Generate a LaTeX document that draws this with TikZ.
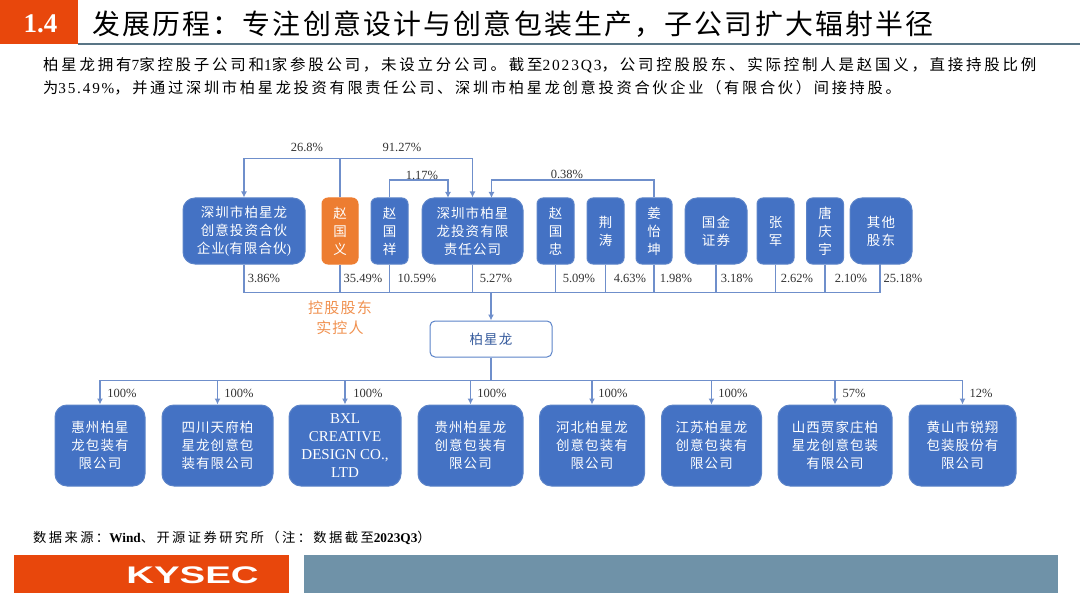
\documentclass[tikz,border=0pt]{standalone}
\usepackage{fontspec}
\setmainfont[LetterSpace=8]{Noto Sans CJK SC}
\newfontfamily\introf[LetterSpace=18]{Noto Sans CJK SC}
\newfontfamily\latf{Liberation Serif}
\newfontfamily\introlat[LetterSpace=12]{Liberation Serif}
\newfontfamily\logof{Liberation Sans}
\usetikzlibrary{arrows.meta}

\definecolor{boxblue}{HTML}{4472C4}
\definecolor{boxline}{HTML}{5B83C8}
\definecolor{linkblue}{HTML}{6F8FCB}
\definecolor{ownerorange}{HTML}{ED7D31}
\definecolor{headred}{HTML}{E8470C}
\definecolor{footblue}{HTML}{6F92A8}

\tikzset{
    company/.style={draw=boxline,line width=1pt,fill=boxblue,text=white,rounded corners=12pt,inner sep=0pt,align=center,font=\fontsize{13.5}{18}\selectfont},
    person/.style={company,rounded corners=6pt},
    link/.style={draw=linkblue,line width=1.2pt},
    linkarrow/.style={link,-{Latex[length=6pt,width=6pt]}},
    pct/.style={inner sep=0pt,font=\latf\fontsize{12.5}{14}\selectfont,text=black!80},
}
\newcommand{\companybox}[6]{\node[company,minimum width=#3 pt,minimum height=#4 pt,#6] (#1) at (#2) {#5};}

\begin{document}
\begin{tikzpicture}[x=1pt,y=-1pt]
    \useasboundingbox (0,0) rectangle (1080,607);

    % header
    \fill[headred] (0,0) rectangle (78,44);
    \fill[footblue!80!black] (78,43) rectangle (1080,45.5);
    \node[inner sep=0pt,text=white] (secno) at (40.5,24) {\latf\bfseries\fontsize{27}{27}\selectfont 1.4};
    \node[inner sep=0pt,anchor=west] (headline) at (92,24) {\fontsize{27.9}{30}\selectfont 发展历程：专注创意设计与创意包装生产，子公司扩大辐射半径};
    \node[inner sep=0pt,anchor=west] (introa) at (43,65) {\introf\fontsize{15.45}{18}\selectfont 柏星龙拥有{\introlat 7}家控股子公司和{\introlat 1}家参股公司，未设立分公司。截至{\introlat 2023Q3}，公司控股股东、实际控制人是赵国义，直接持股比例};
    \node[inner sep=0pt,anchor=west] (introb) at (43,88) {\introf\fontsize{15.2}{18}\selectfont 为{\introlat 35.49\%}，并通过深圳市柏星龙投资有限责任公司、深圳市柏星龙创意投资合伙企业（有限合伙）间接持股。};

    % shareholders
    \companybox{cyhh}{244,231}{122}{66}{深圳市柏星龙\\创意投资合伙\\企业{\latf(}有限合伙{\latf)}}{}
    \companybox{zgy}{340,231}{36}{66}{赵\\国\\义}{person,fill=ownerorange,draw=ownerorange}
    \companybox{zgx}{389.5,231}{37}{66}{赵\\国\\祥}{person}
    \companybox{bxltz}{472.5,231}{101}{66}{深圳市柏星\\龙投资有限\\责任公司}{}
    \companybox{zgz}{555.5,231}{37}{66}{赵\\国\\忠}{person}
    \companybox{jt}{605.5,231}{37}{66}{荆\\涛}{person}
    \companybox{jyk}{654,231}{36}{66}{姜\\怡\\坤}{person}
    \companybox{gjzq}{716,231}{62}{66}{国金\\证券}{}
    \companybox{zj}{775.5,231}{37}{66}{张\\军}{person}
    \companybox{tqy}{825,231}{37}{66}{唐\\庆\\宇}{person}
    \companybox{qtgd}{881,231}{62}{66}{其他\\股东}{}

    % main company
    \node[draw=boxline,line width=1pt,fill=white,rounded corners=5pt,minimum width=122pt,minimum height=36pt,inner sep=0pt,text=boxblue!80!black,font=\fontsize{13.5}{16}\selectfont] (bxl) at (491,339) {柏星龙};

    % subsidiaries
    \companybox{huizhou}{100,445.5}{90}{81}{惠州柏星\\龙包装有\\限公司}{}
    \companybox{sichuan}{217.5,445.5}{111}{81}{四川天府柏\\星龙创意包\\装有限公司}{}
    \companybox{bxlco}{345,445.5}{112}{81}{{\latf\fontsize{15}{18}\selectfont BXL}\\{\latf\fontsize{15}{18}\selectfont CREATIVE}\\{\latf\fontsize{15}{18}\selectfont DESIGN CO.,}\\{\latf\fontsize{15}{18}\selectfont LTD}}{}
    \companybox{guizhou}{470.5,445.5}{105}{81}{贵州柏星龙\\创意包装有\\限公司}{}
    \companybox{hebei}{592,445.5}{105}{81}{河北柏星龙\\创意包装有\\限公司}{}
    \companybox{jiangsu}{711.5,445.5}{100}{81}{江苏柏星龙\\创意包装有\\限公司}{}
    \companybox{shanxi}{835,445.5}{114}{81}{山西贾家庄柏\\星龙创意包装\\有限公司}{}
    \companybox{huangshan}{962.5,445.5}{107}{81}{黄山市锐翔\\包装股份有\\限公司}{}

    % upper links
    \coordinate (topbus) at (340,158.5);
    \coordinate (xiangend) at (448,198);
    \coordinate (kunend) at (491.5,198);
    \draw[link] (zgy.north) -- (topbus);
    \draw[linkarrow] (topbus) -| (cyhh.north);
    \draw[linkarrow] (topbus) -| (bxltz.north);
    \draw[linkarrow] (zgx.north) -- ++(0,-17.5) -| (xiangend);
    \draw[linkarrow] (jyk.north) -- ++(0,-17.5) -| (kunend);

    % shareholder bus
    \coordinate (midbus) at (491,292.5);
    \coordinate (othertop) at (880,264);
    \foreach \holder in {cyhh,zgy,zgx,bxltz,zgz,jt,jyk,gjzq,zj,tqy}
        \draw[link] (\holder.south) |- (midbus);
    \draw[link] (othertop) |- (midbus);
    \draw[linkarrow] (midbus) -- (bxl.north);

    % subsidiary bus
    \coordinate (lowbus) at (491,380.5);
    \draw[link] (bxl.south) -- (lowbus);
    \foreach \sub in {huizhou,sichuan,bxlco,guizhou,hebei,jiangsu,shanxi,huangshan}
        \draw[linkarrow] (lowbus) -| (\sub.north);

    % percentages
    \node[pct] (pa) at (307,147) {26.8\%};
    \node[pct] (pb) at (402,147) {91.27\%};
    \node[pct] (pc) at (422,175) {1.17\%};
    \node[pct] (pd) at (567,174) {0.38\%};
    \node[pct] (pe) at (264,278) {3.86\%};
    \node[pct] (pf) at (363,278) {35.49\%};
    \node[pct] (pg) at (417,278) {10.59\%};
    \node[pct] (ph) at (496,278) {5.27\%};
    \node[pct] (pi) at (579,278) {5.09\%};
    \node[pct] (pj) at (630,278) {4.63\%};
    \node[pct] (pk) at (676,278) {1.98\%};
    \node[pct] (pl) at (737,278) {3.18\%};
    \node[pct] (pm) at (797,278) {2.62\%};
    \node[pct] (pn) at (851,278) {2.10\%};
    \node[pct] (po) at (903,278) {25.18\%};
    \node[pct] (qa) at (122,393) {100\%};
    \node[pct] (qb) at (239,393) {100\%};
    \node[pct] (qc) at (368,393) {100\%};
    \node[pct] (qd) at (492,393) {100\%};
    \node[pct] (qe) at (613,393) {100\%};
    \node[pct] (qf) at (733,393) {100\%};
    \node[pct] (qg) at (854,393) {57\%};
    \node[pct] (qh) at (981,393) {12\%};

    \node[inner sep=0pt,align=center,text=ownerorange!85,font=\fontsize{15}{19.5}\selectfont] (owner) at (340,317.5) {控股股东\\实控人};

    % footer
    \node[inner sep=0pt,anchor=west] (source) at (33,538) {\introf\fontsize{13.3}{15}\selectfont 数据来源：{\latf\bfseries Wind}、开源证券研究所（注：数据截至{\latf\bfseries 2023Q3}）};
    \fill[headred] (14,555) rectangle (289,592.5);
    \fill[footblue] (304,555) rectangle (1058,592.5);
    \node[inner sep=0pt,text=white,xscale=1.6] (logo) at (192.5,575) {\logof\bfseries\fontsize{24}{24}\selectfont KYSEC};
\end{tikzpicture}
\end{document}
